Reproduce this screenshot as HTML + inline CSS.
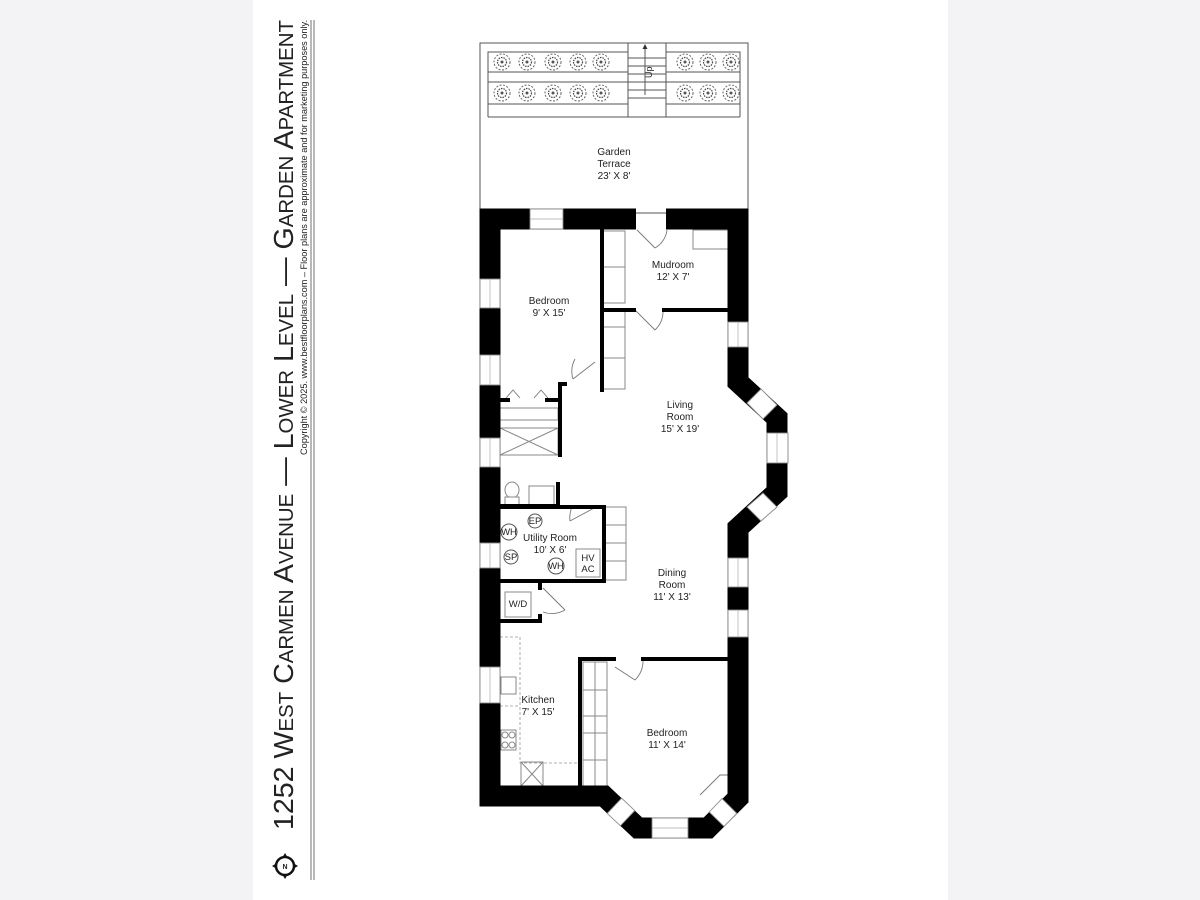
<!DOCTYPE html>
<html><head><meta charset="utf-8"><style>
html,body{margin:0;padding:0;background:#f3f3f5;}
svg{display:block}
text{font-family:"Liberation Sans",sans-serif;fill:#222}
</style></head><body>
<svg width="1200" height="900" viewBox="0 0 1200 900" xmlns="http://www.w3.org/2000/svg">
<defs>
<g id="pl"><circle r="8" fill="none" stroke="#666" stroke-width="1" stroke-dasharray="2 1.5"/><circle r="4.5" fill="none" stroke="#444" stroke-width="1.2" stroke-dasharray="1.5 1"/><circle r="1.5" fill="#555"/></g>
</defs>
<rect x="0" y="0" width="1200" height="900" fill="#f3f3f5"/>
<rect x="253" y="0" width="695" height="900" fill="#fff"/>

<!-- title -->
<text transform="translate(293,830) rotate(-90)" font-size="28" style="font-variant:small-caps" textLength="810" lengthAdjust="spacingAndGlyphs" fill="#111">1252 West Carmen Avenue — Lower Level — Garden Apartment</text>
<text transform="translate(307,455) rotate(-90)" font-size="9.5" textLength="435" lengthAdjust="spacingAndGlyphs">Copyright © 2025. www.bestfloorplans.com – Floor plans are approximate and for marketing purposes only.</text>
<line x1="311" y1="20" x2="311" y2="880" stroke="#888" stroke-width="1.2"/>
<line x1="314" y1="20" x2="314" y2="880" stroke="#888" stroke-width="1.2"/>
<circle cx="285" cy="866" r="9" fill="#fff" stroke="#111" stroke-width="2.5"/>
<text x="285" y="869" font-size="7" text-anchor="middle" font-weight="bold">N</text>
<path d="M285 853 l-3 5 h6z M285 879 l-3 -5 h6z M272 866 l5 -3 v6z M298 866 l-5 -3 v6z" fill="#111"/>

<!-- terrace -->
<g fill="none" stroke="#555" stroke-width="1">
<rect x="480" y="43" width="268" height="170"/>
<rect x="488" y="52" width="140" height="20"/>
<rect x="488" y="82" width="140" height="22"/>
<rect x="666" y="52" width="74" height="20"/>
<rect x="666" y="82" width="74" height="22"/>
<line x1="488" y1="117" x2="740" y2="117"/>
<line x1="488" y1="52" x2="488" y2="117"/><line x1="740" y1="52" x2="740" y2="117"/>
<line x1="628" y1="43" x2="628" y2="117"/><line x1="666" y1="43" x2="666" y2="117"/>
<line x1="628" y1="58" x2="666" y2="58"/><line x1="628" y1="66" x2="666" y2="66"/><line x1="628" y1="74" x2="666" y2="74"/><line x1="628" y1="82" x2="666" y2="82"/><line x1="628" y1="90" x2="666" y2="90"/><line x1="628" y1="98" x2="666" y2="98"/>
<line x1="645" y1="45" x2="645" y2="95"/>
</g>
<path d="M645 44 l-2.5 5 h5z" fill="#333"/>
<text transform="translate(652,78) rotate(-90)" font-size="9">Up</text>
<g>
<use href="#pl" x="502" y="62"/><use href="#pl" x="527" y="62"/><use href="#pl" x="553" y="62"/><use href="#pl" x="578" y="62"/><use href="#pl" x="601" y="62"/>
<use href="#pl" x="502" y="93"/><use href="#pl" x="527" y="93"/><use href="#pl" x="553" y="93"/><use href="#pl" x="578" y="93"/><use href="#pl" x="601" y="93"/>
<use href="#pl" x="685" y="62"/><use href="#pl" x="708" y="62"/><use href="#pl" x="731" y="62"/>
<use href="#pl" x="685" y="93"/><use href="#pl" x="708" y="93"/><use href="#pl" x="731" y="93"/>
</g>
<text x="614" y="155" font-size="10" text-anchor="middle">Garden</text>
<text x="614" y="167" font-size="10" text-anchor="middle">Terrace</text>
<text x="614" y="179" font-size="10" text-anchor="middle">23' X 8'</text>

<!-- interior details (light) -->
<g fill="#fff" stroke="#888" stroke-width="1">
<rect x="603" y="231" width="22" height="72"/><line x1="603" y1="267" x2="625" y2="267"/>
<rect x="603" y="311" width="22" height="78"/><line x1="603" y1="327" x2="625" y2="327"/><line x1="603" y1="358" x2="625" y2="358"/>
<rect x="693" y="230" width="35" height="19"/>
<rect x="500" y="408" width="58" height="12"/>
<rect x="500" y="428" width="58" height="27"/><path d="M500 428 L558 455 M500 455 L558 428"/>
<rect x="604" y="507" width="22" height="73"/><line x1="604" y1="525" x2="626" y2="525"/><line x1="604" y1="543" x2="626" y2="543"/><line x1="604" y1="561" x2="626" y2="561"/>
<rect x="576" y="549" width="24" height="28"/>
<rect x="505" y="592" width="26" height="25"/>
<rect x="529" y="486" width="25" height="19"/>
<ellipse cx="512" cy="490" rx="7" ry="8"/><rect x="505" y="497" width="14" height="8"/>
<rect x="583" y="662" width="24" height="124"/><line x1="595" y1="662" x2="595" y2="786"/><line x1="583" y1="690" x2="607" y2="690"/><line x1="583" y1="716" x2="607" y2="716"/><line x1="583" y1="733" x2="607" y2="733"/><line x1="583" y1="760" x2="607" y2="760"/>
<rect x="501" y="677" width="15" height="17"/>
<rect x="501" y="730" width="15" height="20"/><circle cx="505" cy="735" r="3"/><circle cx="512" cy="735" r="3"/><circle cx="505" cy="745" r="3"/><circle cx="512" cy="745" r="3"/>
<rect x="521" y="762" width="22" height="24"/><path d="M521 762 L543 786 M521 786 L543 762"/>
</g>
<path d="M500 637 H520 V763 H578 M500 706 H520" fill="none" stroke="#999" stroke-width="0.8" stroke-dasharray="3 2"/>
<!-- doors -->
<g fill="none" stroke="#777" stroke-width="0.9">
<path d="M637 230 L655 248 M655 248 A24 24 0 0 0 667 230"/>
<path d="M635 310 L655 330 M655 330 A26 26 0 0 0 663 310"/>
<path d="M573 379 L595 362 M573 379 A26 26 0 0 1 575 359"/>
<path d="M506 398 l7 -8 l7 8 M534 398 l7 -8 l7 8"/>
<path d="M570 521 L596 507 M570 521 A28 28 0 0 1 572 507"/>
<path d="M543 588 L565 610 M543 612 A26 26 0 0 0 565 610"/>
<path d="M615 667 L635 680 M635 680 A28 28 0 0 0 643 659"/>
<path d="M700 795 l20 -20 l8 0"/>
</g>

<!-- interior walls -->
<g stroke="#000" fill="none" stroke-width="4" stroke-linecap="square">
<path d="M602 231 V390"/>
<path d="M602 310 H634 M664 310 H728"/>
<path d="M500 400 H508 M547 400 H560 V384 H565"/>
<path d="M560 400 V455"/>
<path d="M558 484 V506 H500"/>
<path d="M500 507 H596 M598 507 H604 V581 H500"/>
<path d="M540 583 V588 M540 616 V621 H500"/>
<path d="M580 659 V786 M580 659 H614 M643 659 H728"/>
</g>

<!-- exterior walls -->
<path d="M636 219 H490 V796 H604 L638 828 H708 L738 798 V528 L777 492 V418 L738 382 V219 H666" fill="none" stroke="#000" stroke-width="21" stroke-linejoin="miter"/>
<!-- windows -->
<g fill="#fff" stroke="#888" stroke-width="0.9">
<rect x="480" y="279" width="20" height="29"/><rect x="480" y="355" width="20" height="30"/><rect x="480" y="438" width="20" height="29"/><rect x="480" y="543" width="20" height="25"/><rect x="480" y="667" width="20" height="36"/>
<rect x="530" y="209" width="33" height="20"/>
<rect x="728" y="322" width="20" height="25"/><rect x="728" y="558" width="20" height="29"/><rect x="728" y="610" width="20" height="27"/>
<rect x="767" y="433" width="21" height="30"/>
<rect x="652" y="818" width="36" height="20"/>
<polygon points="747,403 761,389 777,405 763,419"/>
<polygon points="747,507 763,493 777,507 761,521"/>
<polygon points="621.6,798.2 634.8,810.6 620.4,825.8 607.2,813.4"/>
<polygon points="709.2,812 722,798.6 736.8,813.4 724,826.4"/>
</g>
<g stroke="#aaa" stroke-width="0.7">
<line x1="490" y1="279" x2="490" y2="308"/><line x1="490" y1="355" x2="490" y2="385"/><line x1="490" y1="438" x2="490" y2="467"/><line x1="490" y1="543" x2="490" y2="568"/><line x1="490" y1="667" x2="490" y2="703"/>
<line x1="530" y1="219" x2="563" y2="219"/><line x1="738" y1="322" x2="738" y2="347"/><line x1="738" y1="558" x2="738" y2="587"/><line x1="738" y1="610" x2="738" y2="637"/><line x1="777" y1="433" x2="777" y2="463"/><line x1="652" y1="828" x2="688" y2="828"/>
</g>

<!-- utility symbols -->
<g fill="#fff" stroke="#555" stroke-width="1">
<circle cx="509" cy="532" r="8"/><circle cx="535" cy="521" r="7"/><circle cx="511" cy="557" r="7"/><circle cx="556" cy="566" r="8"/>
</g>
<g font-size="9.5" text-anchor="middle">
<text x="509" y="535">WH</text><text x="535" y="524">EP</text><text x="511" y="560">SP</text><text x="556" y="569">WH</text>
<text x="588" y="561">HV</text><text x="588" y="572">AC</text><text x="518" y="607">W/D</text>
</g>

<!-- room labels -->
<g font-size="10" text-anchor="middle">
<text x="549" y="304">Bedroom</text><text x="549" y="316">9' X 15'</text>
<text x="673" y="268">Mudroom</text><text x="673" y="280">12' X 7'</text>
<text x="680" y="408">Living</text><text x="680" y="420">Room</text><text x="680" y="432">15' X 19'</text>
<text x="550" y="541">Utility Room</text><text x="550" y="553">10' X 6'</text>
<text x="672" y="576">Dining</text><text x="672" y="588">Room</text><text x="672" y="600">11' X 13'</text>
<text x="538" y="703">Kitchen</text><text x="538" y="715">7' X 15'</text>
<text x="667" y="736">Bedroom</text><text x="667" y="748">11' X 14'</text>
</g>
</svg>
</body></html>
